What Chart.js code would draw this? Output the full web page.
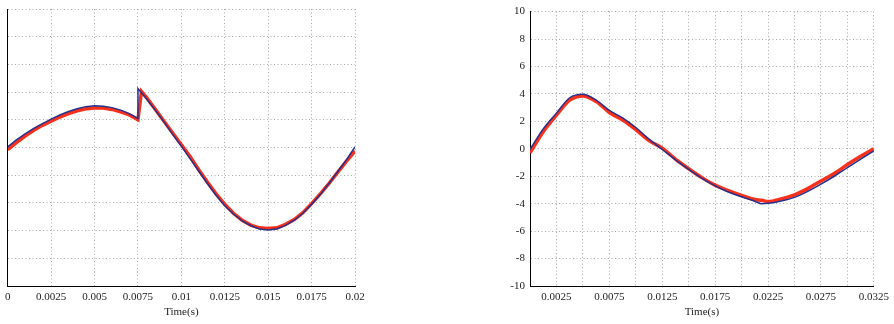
<!DOCTYPE html>
<html>
<head>
<meta charset="utf-8">
<script src="https://cdn.jsdelivr.net/npm/chart.js@4.4.0/dist/chart.umd.min.js"></script>
<style>
  html, body { margin: 0; padding: 0; background: #fff; }
  body { width: 894px; height: 324px; position: relative; overflow: hidden; }
  .panel { position: absolute; top: 0; height: 324px; }
  #left-wrap { left: 0; width: 380px; }
  #right-wrap { left: 470px; width: 424px; }
</style>
</head>
<body>
<div class="panel" id="left-wrap"><canvas id="left"></canvas></div>
<div class="panel" id="right-wrap"><canvas id="right"></canvas></div>
<script>
/* Two current traces (reference vs measured) on a shared -10..10 scale.
   Values read off the scope picture by eye. */

// left panel: step change at 7.5 ms
const leftBlueTime = [0, 0.0005, 0.001, 0.0015, 0.002, 0.0025, 0.003, 0.0035, 0.004, 0.0045, 0.005,
  0.0055, 0.006, 0.0065, 0.007, 0.0075, 0.0075, 0.008, 0.0085, 0.009, 0.0095, 0.01,
  0.0105, 0.011, 0.0115, 0.012, 0.0125, 0.013, 0.0135, 0.014, 0.0145, 0.015,
  0.0155, 0.016, 0.0165, 0.017, 0.0175, 0.018, 0.0185, 0.019, 0.0195, 0.02];
const leftBlue = [0.05, 0.55, 0.98, 1.38, 1.72, 2.05, 2.35, 2.6, 2.8, 2.95, 3.02,
  2.98, 2.88, 2.7, 2.45, 2.1, 4.25, 3.5, 2.7, 1.85, 0.95, 0.1,
  -0.8, -1.7, -2.6, -3.45, -4.2, -4.8, -5.3, -5.65, -5.88, -5.95,
  -5.88, -5.62, -5.25, -4.75, -4.1, -3.4, -2.6, -1.75, -0.9, 0.05];
const leftRedTime = [0, 0.0005, 0.001, 0.0015, 0.002, 0.0025, 0.003, 0.0035, 0.004, 0.0045, 0.005,
  0.0055, 0.006, 0.0065, 0.007, 0.0075, 0.0077, 0.008, 0.0085, 0.009, 0.0095, 0.01,
  0.0105, 0.011, 0.0115, 0.012, 0.0125, 0.013, 0.0135, 0.014, 0.0145, 0.015,
  0.0155, 0.016, 0.0165, 0.017, 0.0175, 0.018, 0.0185, 0.019, 0.0195, 0.02];
const leftRed = [-0.15, 0.35, 0.82, 1.25, 1.6, 1.9, 2.2, 2.45, 2.65, 2.8, 2.85,
  2.85, 2.75, 2.58, 2.35, 2.0, 4.05, 3.6, 2.75, 1.9, 1.05, 0.2,
  -0.65, -1.6, -2.5, -3.35, -4.1, -4.75, -5.25, -5.6, -5.8, -5.85,
  -5.8, -5.55, -5.2, -4.7, -4.05, -3.35, -2.6, -1.8, -1.0, -0.25];

// right panel
const rightTime = [0, 0.00125, 0.0025, 0.00375, 0.005, 0.00625, 0.0075, 0.00875, 0.01, 0.01125,
  0.0125, 0.01375, 0.015, 0.01625, 0.0175, 0.01875, 0.02, 0.02125, 0.0219, 0.0225,
  0.02375, 0.025, 0.02625, 0.0275, 0.02875, 0.03, 0.03125, 0.0325];
const rightBlue = [-0.05, 1.45, 2.6, 3.72, 3.97, 3.55, 2.8, 2.25, 1.55, 0.7,
  -0.05, -0.8, -1.5, -2.15, -2.7, -3.15, -3.5, -3.82, -4.0, -3.97,
  -3.8, -3.54, -3.1, -2.57, -2.0, -1.37, -0.75, -0.15];
const rightRed = [-0.3, 1.25, 2.45, 3.55, 3.85, 3.45, 2.65, 2.1, 1.4, 0.6,
  0.05, -0.75, -1.45, -2.1, -2.65, -3.05, -3.4, -3.7, -3.75, -3.85,
  -3.65, -3.35, -2.9, -2.35, -1.8, -1.15, -0.55, 0.0];

const yTicks = [-10, -8, -6, -4, -2, 0, 2, 4, 6, 8, 10];
const xStep = 0.0025;

const BLUE = '#25308c';
const RED = '#f8301c';

Chart.defaults.font.family = '"Liberation Serif", "DejaVu Serif", serif';
Chart.defaults.font.size = 11;
Chart.defaults.color = '#222';

const zip = (xs, ys) => xs.map((x, i) => ({ x, y: ys[i] }));
const fmt = v => String(+v.toFixed(4));

function traces(bt, bv, rt, rv, smooth) {
  const common = { pointRadius: 0, fill: false, cubicInterpolationMode: smooth ? 'monotone' : 'default', tension: 0 };
  return [
    { ...common, data: zip(bt, bv), borderColor: BLUE, borderWidth: 1.5 },
    { ...common, data: zip(rt, rv), borderColor: RED, borderWidth: 3.5 },
  ];
}

function gridAxis(extra) {
  return {
    type: 'linear',
    grid: { color: '#a8a8a8', lineWidth: 1, drawTicks: false },
    border: { display: true, color: '#000', width: 1, dash: [1, 2.5] },
    ...extra,
  };
}

function makeChart(id, datasets, xMax, xLabel, showY, pad, yWidth) {
  return new Chart(document.getElementById(id), {
    type: 'line',
    data: { datasets },
    options: {
      responsive: true,
      maintainAspectRatio: false,
      animation: false,
      layout: { padding: pad },
      plugins: { legend: { display: false }, tooltip: { enabled: false } },
      scales: {
        x: gridAxis({
          min: 0, max: xMax,
          afterBuildTicks: s => { s.ticks = []; for (let k = 0; k * xStep <= xMax + 1e-9; k++) s.ticks.push({ value: +(k * xStep).toFixed(5) }); },
          ticks: { padding: 5, autoSkip: false, maxRotation: 0, callback: xLabel },
          title: { display: true, text: 'Time(s)', padding: { top: 0, bottom: 5 }, font: { size: 11 } },
          afterFit: s => { s.height = 38; },
        }),
        y: gridAxis({
          min: -10, max: 10,
          afterBuildTicks: s => { s.ticks = yTicks.map(v => ({ value: v })); },
          ticks: { display: showY, padding: 5 },
          afterFit: s => { s.width = yWidth; },
        }),
      },
    },
  });
}

makeChart('left', traces(leftBlueTime, leftBlue, leftRedTime, leftRed, false), 0.02,
  v => fmt(v), false, { left: 3, top: 9, right: 25, bottom: 0 }, 0);

makeChart('right', traces(rightTime, rightBlue, rightTime, rightRed, true), 0.0325,
  v => (Math.round(v / xStep) % 2 === 1 ? fmt(v) : ''), true, { left: 0, top: 9, right: 13, bottom: 0 }, 60);
</script>
</body>
</html>
